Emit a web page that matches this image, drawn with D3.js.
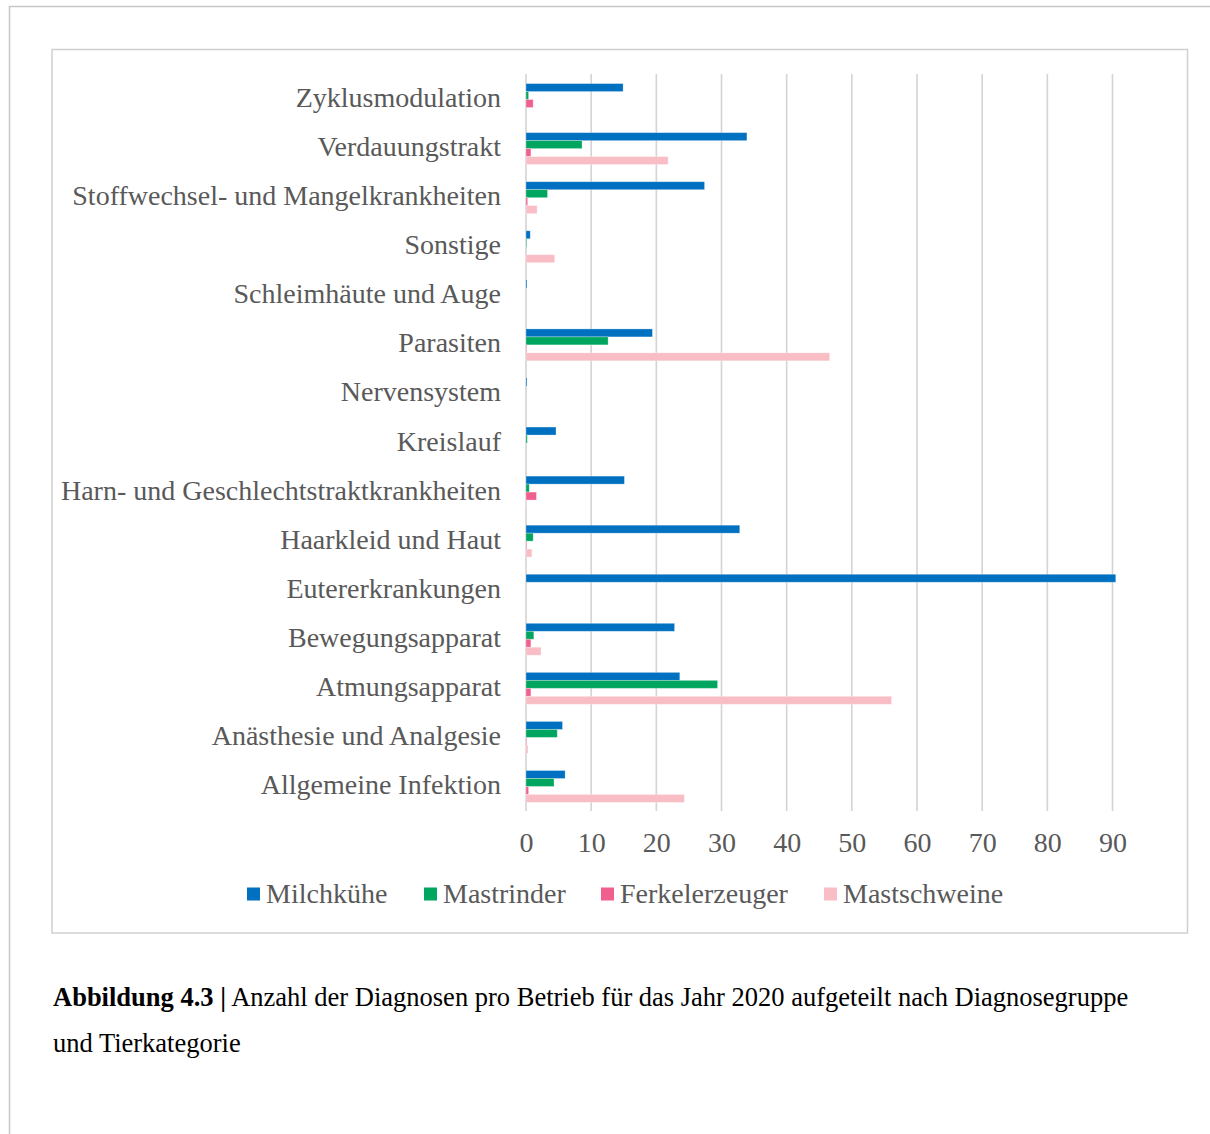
<!DOCTYPE html>
<html>
<head>
<meta charset="utf-8">
<script src="https://cdn.jsdelivr.net/npm/d3@7"></script>
<style>
  html, body { margin: 0; padding: 0; background: #fff; }
  svg { display: block; }
</style>
</head>
<body>
<script>
// Diagnosegruppen (top to bottom)
const categories = [
  "Zyklusmodulation",
  "Verdauungstrakt",
  "Stoffwechsel- und Mangelkrankheiten",
  "Sonstige",
  "Schleimhäute und Auge",
  "Parasiten",
  "Nervensystem",
  "Kreislauf",
  "Harn- und Geschlechtstraktkrankheiten",
  "Haarkleid und Haut",
  "Eutererkrankungen",
  "Bewegungsapparat",
  "Atmungsapparat",
  "Anästhesie und Analgesie",
  "Allgemeine Infektion"
];

const seriesNames = ["Milchkühe", "Mastrinder", "Ferkelerzeuger", "Mastschweine"];

// Diagnosen pro Betrieb, one value per category
const milchkuehe     = [14.9, 33.9, 27.4, 0.65, 0.15, 19.4, 0.15, 4.6, 15.1, 32.8, 90.5, 22.8, 23.6, 5.6, 6.0];
const mastrinder     = [0.4, 8.6, 3.3, 0.05, 0, 12.6, 0, 0.2, 0.5, 1.1, 0, 1.2, 29.4, 4.8, 4.3];
const ferkelerzeuger = [1.1, 0.75, 0.25, 0, 0, 0.1, 0, 0, 1.6, 0.1, 0, 0.75, 0.75, 0.1, 0.4];
const mastschweine   = [0, 21.8, 1.7, 4.4, 0, 46.6, 0, 0, 0.1, 0.9, 0, 2.3, 56.1, 0.3, 24.3];

const tickValues = [0, 10, 20, 30, 40, 50, 60, 70, 80, 90];

const colors = ["#0070C0", "#00A65F", "#F0608F", "#F9BDC5"];
const seriesValues = [milchkuehe, mastrinder, ferkelerzeuger, mastschweine];

const W = 1210, H = 1134;
const textColor = "#595959";
const serif = "'Liberation Serif', 'Times New Roman', serif";
const fs = 28;

const svg = d3.select("body").append("svg")
  .attr("width", W).attr("height", H);

// page frames
svg.append("path")
  .attr("d", `M9.5,${H} V6.5 H${W}`)
  .attr("fill", "none").attr("stroke", "#c8c8c8").attr("stroke-width", 1.5);
svg.append("rect")
  .attr("x", 52).attr("y", 49.5).attr("width", 1135.5).attr("height", 883.5)
  .attr("fill", "#fff").attr("stroke", "#d0d0d0").attr("stroke-width", 1.5);

// scales
const x = d3.scaleLinear().domain([0, 90]).range([526, 1112.5]);
const y = d3.scaleBand().domain(categories).range([75, 811])
  .paddingInner(0.35).paddingOuter(0.175);
const ys = d3.scaleBand().domain(seriesNames).range([0, y.bandwidth()]);

// gridlines
svg.append("g").selectAll("line").data(tickValues).join("line")
  .attr("x1", d => x(d)).attr("x2", d => x(d))
  .attr("y1", 74).attr("y2", 811)
  .attr("stroke", "#d4d4d4").attr("stroke-width", 1.6);

// bars
const rows = categories.map((c, i) => ({
  cat: c,
  vals: seriesNames.map((s, j) => ({ s, j, v: seriesValues[j][i] }))
}));

const groups = svg.append("g").selectAll("g").data(rows).join("g")
  .attr("transform", d => `translate(0,${y(d.cat)})`);

groups.selectAll("rect").data(d => d.vals.filter(o => o.v > 0)).join("rect")
  .attr("x", x(0))
  .attr("y", d => ys(d.s))
  .attr("width", d => Math.max(0.6, x(d.v) - x(0)))
  .attr("height", ys.bandwidth())
  .attr("fill", d => colors[d.j])
  .attr("stroke", "#ffffff").attr("stroke-opacity", 0.35).attr("stroke-width", 0.8);

// category labels
svg.append("g").selectAll("text").data(categories).join("text")
  .attr("x", 501)
  .attr("y", d => y(d) + y.bandwidth() / 2 + 7.5)
  .attr("text-anchor", "end")
  .attr("font-family", serif).attr("font-size", fs)
  .attr("fill", textColor)
  .text(d => d);

// value axis
const xAxis = d3.axisBottom(x).tickValues(tickValues).tickSize(0).tickPadding(0);
const ax = svg.append("g").attr("transform", "translate(0,852)").call(xAxis);
ax.select(".domain").remove();
ax.selectAll("text")
  .attr("dy", 0).attr("y", 0)
  .attr("font-family", serif).attr("font-size", fs)
  .attr("fill", textColor);

// legend
const legendX = [247, 424, 601, 824];
const legend = svg.append("g").selectAll("g").data(seriesNames).join("g")
  .attr("transform", (d, i) => `translate(${legendX[i]},894)`);
legend.append("rect")
  .attr("x", 0).attr("y", -6.5).attr("width", 13).attr("height", 13)
  .attr("fill", (d, i) => colors[i]);
legend.append("text")
  .attr("x", 19).attr("y", 9)
  .attr("font-family", serif).attr("font-size", fs)
  .attr("fill", textColor)
  .text(d => d);

// caption
const capSize = 26.5;
const cap = svg.append("text")
  .attr("x", 53).attr("y", 1006)
  .attr("font-family", serif).attr("font-size", capSize)
  .attr("fill", "#000");
cap.append("tspan").attr("font-weight", "bold").text("Abbildung 4.3 |");
cap.append("tspan").text(" Anzahl der Diagnosen pro Betrieb für das Jahr 2020 aufgeteilt nach Diagnosegruppe");
svg.append("text")
  .attr("x", 53).attr("y", 1052)
  .attr("font-family", serif).attr("font-size", capSize)
  .attr("fill", "#000")
  .text("und Tierkategorie");
</script>
</body>
</html>
